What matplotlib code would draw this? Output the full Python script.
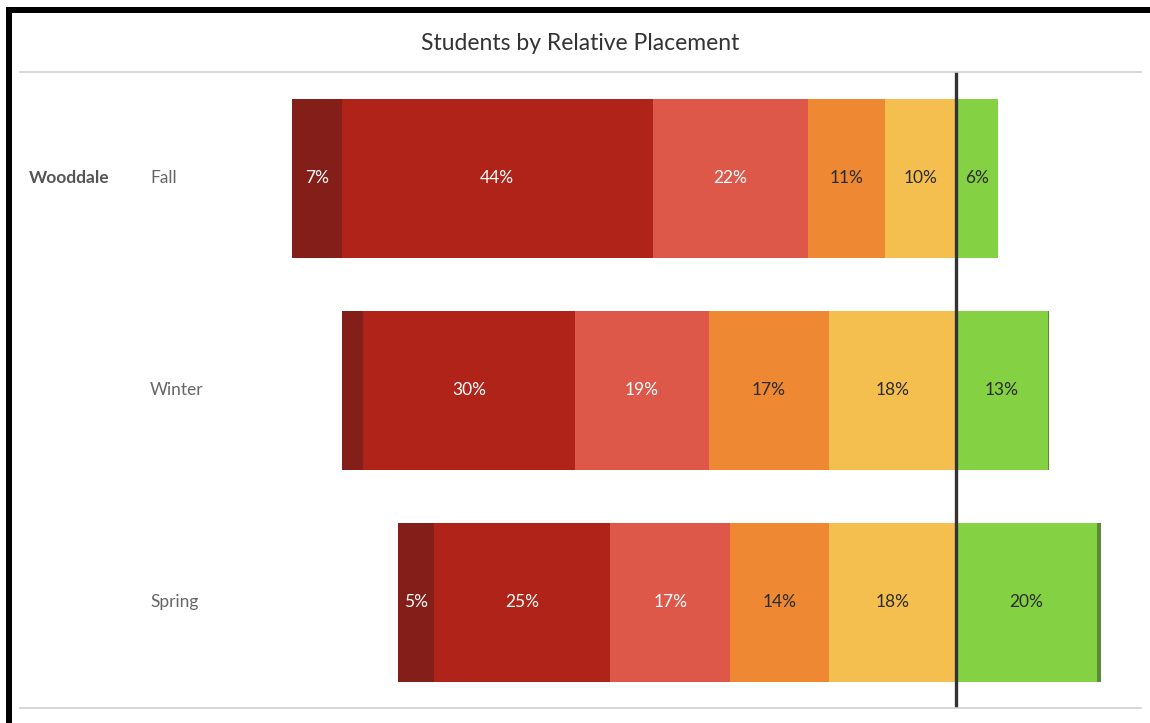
import matplotlib.pyplot as plt
from matplotlib.patches import Rectangle
from matplotlib.transforms import blended_transform_factory

plt.rcParams['font.family'] = ['Lato', 'DejaVu Sans']

# data
school = "Wooddale"
seasons = ["Fall", "Winter", "Spring"]
far_below = [7, 3, 5]
below = [44, 30, 25]
approaching = [22, 19, 17]
near = [11, 17, 14]
almost = [10, 18, 18]
met = [6, 13, 20]
exceeded = [0, 0.2, 0.5]

left_groups = [almost, near, approaching, below, far_below]   # stacked leftwards from 0
left_colors = ["#F5BF4F", "#EE8833", "#DE584A", "#AF2318", "#831F18"]
left_text = ["#2b2b2b", "#2b2b2b", "white", "white", "white"]
right_groups = [met, exceeded]
right_colors = ["#84D143", "#5C8A38"]
right_text = ["#2b2b2b", "#2b2b2b"]

W, H = 1150, 723
fig = plt.figure(figsize=(W / 100, H / 100), dpi=100)
ax = fig.add_axes([20 / W, 1 - 708 / H, 1121 / W, 636 / H])

ypos = range(len(seasons))
h = 0.75

start = [0] * len(seasons)
for vals, col, tc in zip(left_groups, left_colors, left_text):
    lefts = [s - v for s, v in zip(start, vals)]
    ax.barh(ypos, vals, left=lefts, height=h, color=col, linewidth=0)
    for y, l, v in zip(ypos, lefts, vals):
        if v >= 4:
            ax.text(l + v / 2, y, f"{v:.0f}%", ha="center", va="center", color=tc, fontsize=12.5)
    start = lefts

start = [0] * len(seasons)
for vals, col, tc in zip(right_groups, right_colors, right_text):
    ax.barh(ypos, vals, left=start, height=h, color=col, linewidth=0)
    for y, l, v in zip(ypos, start, vals):
        if v >= 4:
            ax.text(l + v / 2, y, f"{v:.0f}%", ha="center", va="center", color=tc, fontsize=12.5)
    start = [s + v for s, v in zip(start, vals)]

ax.axvline(0, color="#333333", lw=2.4)

ax.set_xlim(-132.6, 26.2)
ax.set_ylim(2.5, -0.5)
ax.set_xticks([])
ax.set_yticks([])
for s in ["left", "right"]:
    ax.spines[s].set_visible(False)
for s in ["top", "bottom"]:
    ax.spines[s].set_color("#cfcfcf")
    ax.spines[s].set_linewidth(1.2)

tr = blended_transform_factory(ax.transAxes, ax.transData)
ax.text(9 / 1121, 0, school, transform=tr, ha="left", va="center", color="#555555",
        fontsize=12.5, fontweight="bold")
for y, s in zip(ypos, seasons):
    ax.text(130 / 1121, y, s, transform=tr, ha="left", va="center", color="#666666", fontsize=12.5)

fig.text(580 / W, 1 - 44 / H, "Students by Relative Placement", ha="center", va="center",
         color="#333333", fontsize=16.5)

# outer frame (left and top black edges)
fig.add_artist(Rectangle((6 / W, 0), 6 / W, 1 - 7 / H, transform=fig.transFigure,
                         color="black", lw=0))
fig.add_artist(Rectangle((6 / W, 1 - 13 / H), 1 - 6 / W, 6 / H, transform=fig.transFigure,
                         color="black", lw=0))

fig.savefig("out.png", dpi=100, facecolor="white")
